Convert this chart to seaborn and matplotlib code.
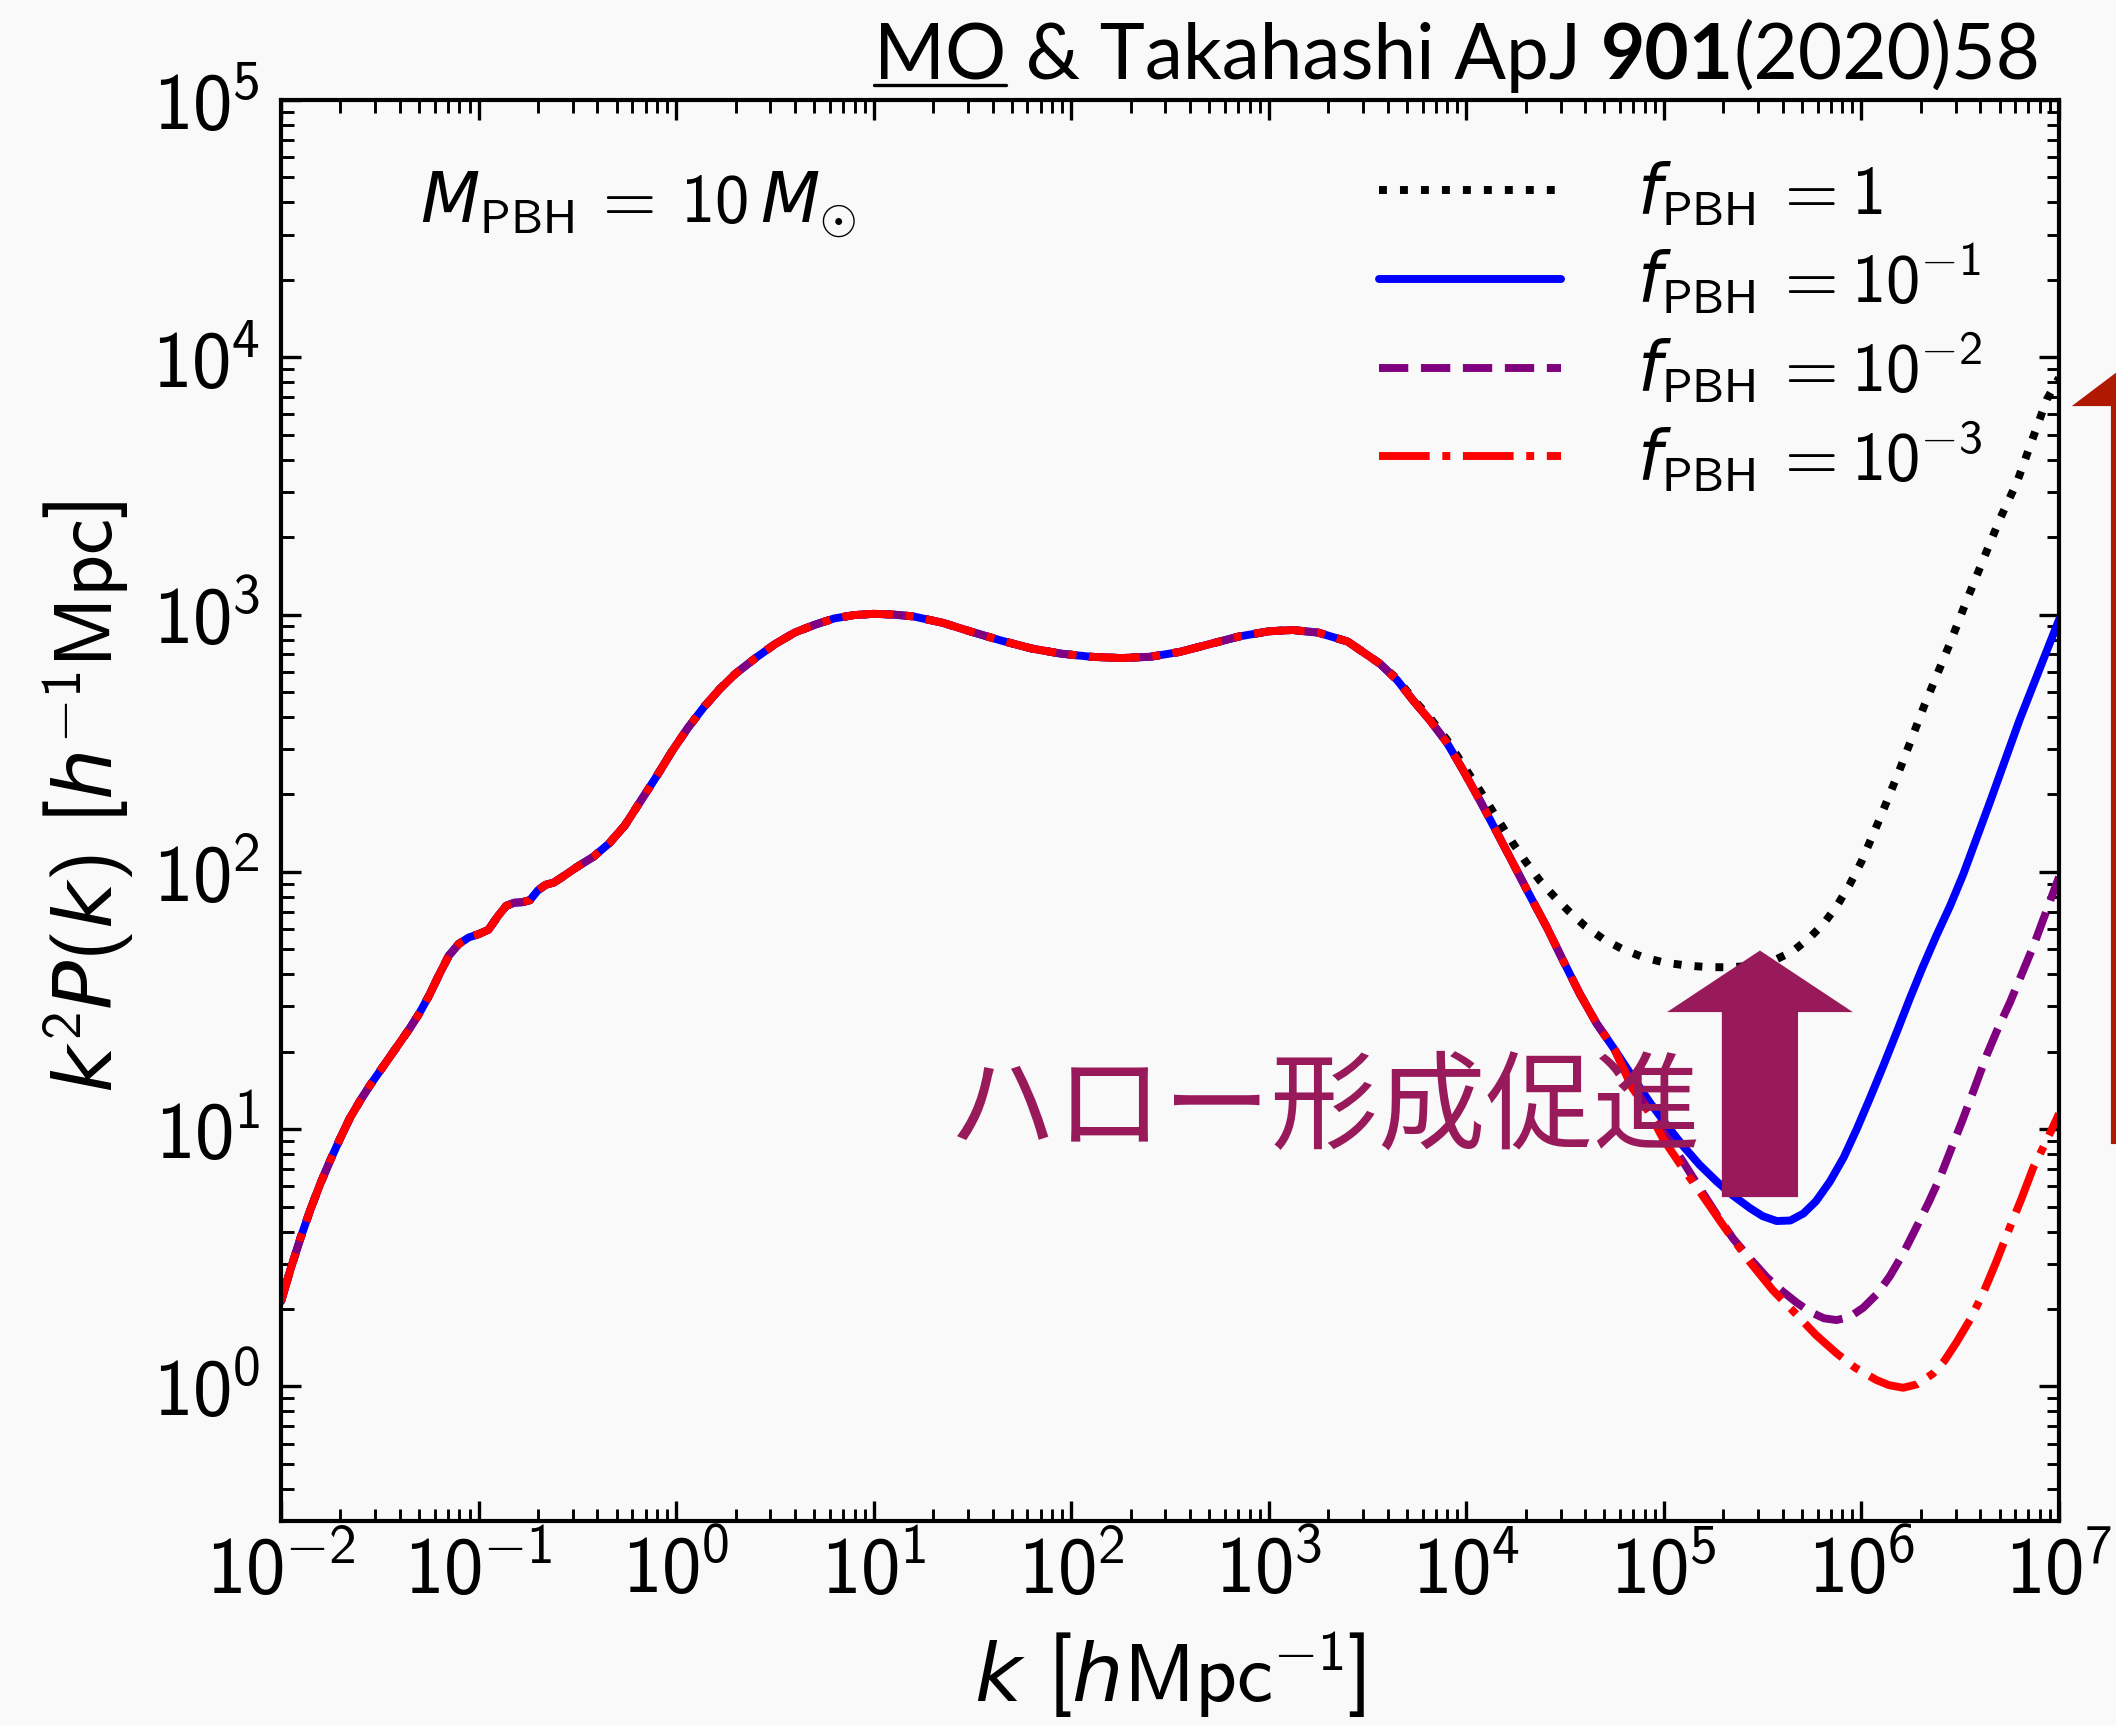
import numpy as np
import matplotlib
matplotlib.use("Agg")
import matplotlib.pyplot as plt
import seaborn as sns
from matplotlib.patches import FancyArrow
from matplotlib.lines import Line2D
from matplotlib.text import Annotation
from matplotlib.ticker import LogLocator, FuncFormatter, NullFormatter

# ---- data: log10 k [h/Mpc] and log10 k^2 P(k) [Mpc/h] ----
# part shared by all four f_PBH values
log_k_shared = [-2.0, -1.95, -1.90, -1.85, -1.80, -1.75, -1.70, -1.65, -1.60,
                -1.55, -1.50, -1.45, -1.40, -1.35, -1.30, -1.25, -1.20, -1.15,
                -1.10, -1.05, -1.00, -0.95, -0.90, -0.86, -0.82, -0.78, -0.74,
                -0.70, -0.66, -0.62, -0.58, -0.50, -0.42, -0.34, -0.26, -0.18,
                -0.10, -0.02, 0.06, 0.14, 0.22, 0.30, 0.40, 0.50, 0.60, 0.70,
                0.80, 0.90, 1.00, 1.10, 1.20, 1.35, 1.50, 1.65, 1.80, 1.95,
                2.10, 2.25, 2.40, 2.55, 2.70, 2.85, 3.00, 3.12, 3.25, 3.40, 3.563]
log_p_shared = [0.33, 0.46, 0.58, 0.69, 0.79, 0.88, 0.965, 1.045, 1.11,
                1.17, 1.225, 1.28, 1.335, 1.39, 1.45, 1.52, 1.60, 1.675,
                1.72, 1.745, 1.758, 1.775, 1.83, 1.868, 1.880, 1.882, 1.890,
                1.928, 1.950, 1.958, 1.978, 2.02, 2.058, 2.11, 2.18, 2.275,
                2.37, 2.47, 2.56, 2.64, 2.71, 2.77, 2.83, 2.885, 2.93, 2.96,
                2.985, 2.998, 3.003, 3.0, 2.993, 2.968, 2.932, 2.898, 2.868, 2.848,
                2.836, 2.831, 2.836, 2.855, 2.885, 2.915, 2.935, 2.94, 2.93, 2.895, 2.809]

# decline common to f_PBH <= 0.1
log_k_decline = [3.65, 3.731, 3.82, 3.90, 3.98, 4.069, 4.15, 4.238, 4.32,
                 4.407, 4.49, 4.575, 4.66, 4.75]
log_p_decline = [2.745, 2.666, 2.585, 2.504, 2.40, 2.277, 2.16, 2.031, 1.91,
                 1.785, 1.655, 1.525, 1.41, 1.31]

# f_PBH = 1
log_k_f1 = [3.65, 3.731, 3.82, 3.9, 3.98, 4.069, 4.15, 4.238, 4.30, 4.372,
            4.45, 4.524, 4.60, 4.693, 4.79, 4.896, 5.0, 5.115, 5.22, 5.335,
            5.45, 5.554, 5.65, 5.739, 5.81, 5.876, 5.94, 6.0, 6.1, 6.2, 6.32,
            6.448, 6.53, 6.615, 6.70, 6.787, 6.86, 6.939, 7.0]
log_p_f1 = [2.75, 2.672, 2.595, 2.515, 2.42, 2.316, 2.215, 2.109, 2.04, 1.966,
            1.90, 1.843, 1.79, 1.739, 1.70, 1.668, 1.648, 1.636, 1.630, 1.629,
            1.636, 1.655, 1.69, 1.745, 1.80, 1.868, 1.95, 2.04, 2.22, 2.41, 2.65,
            2.888, 3.05, 3.211, 3.37, 3.514, 3.67, 3.837, 3.92]

# f_PBH = 1e-1
log_k_f01 = [4.84, 4.929, 5.01, 5.098, 5.18, 5.267, 5.35, 5.436, 5.50, 5.571,
             5.64, 5.706, 5.77, 5.841, 5.91, 5.976, 6.04, 6.111, 6.18, 6.246,
             6.31, 6.381, 6.45, 6.515, 6.65, 6.8, 7.0]
log_p_f01 = [1.205, 1.104, 1.02, 0.934, 0.862, 0.797, 0.742, 0.693, 0.662, 0.643,
             0.645, 0.672, 0.72, 0.797, 0.89, 1.0, 1.115, 1.247, 1.38, 1.51,
             1.63, 1.755, 1.87, 1.99, 2.27, 2.59, 2.98]

# f_PBH = 1e-2
log_k_f001 = [4.84, 4.929, 5.01, 5.1, 5.182, 5.27, 5.35, 5.436, 5.52, 5.6,
              5.672, 5.74, 5.81, 5.874, 5.94, 6.009, 6.08, 6.144, 6.21, 6.279,
              6.34, 6.397, 6.455, 6.515, 6.575, 6.634, 6.69, 6.752, 6.81,
              6.870, 6.93, 7.0]
log_p_f001 = [1.17, 1.07, 0.975, 0.87, 0.77, 0.665, 0.575, 0.497, 0.425, 0.37,
              0.326, 0.29, 0.265, 0.258, 0.27, 0.306, 0.36, 0.429, 0.515, 0.62,
              0.715, 0.811, 0.925, 1.042, 1.165, 1.288, 1.39, 1.493, 1.6,
              1.711, 1.835, 1.98]

# f_PBH = 1e-3
log_k_f0001 = [4.84, 4.929, 4.997, 5.09, 5.182, 5.31, 5.436, 5.55, 5.672, 5.77,
               5.874, 5.97, 6.076, 6.14, 6.211, 6.28, 6.362, 6.42, 6.48, 6.55,
               6.615, 6.68, 6.752, 6.81, 6.87, 6.94, 7.0]
log_p_f0001 = [1.16, 1.06, 0.961, 0.855, 0.757, 0.615, 0.483, 0.375, 0.279, 0.20,
               0.129, 0.072, 0.025, 0.005, -0.005, 0.008, 0.05, 0.10, 0.17, 0.26,
               0.361, 0.48, 0.620, 0.73, 0.851, 0.96, 1.06]

labels = [r"$f_{\mathrm{PBH}}\,=1$",
          r"$f_{\mathrm{PBH}}\,=10^{-1}$",
          r"$f_{\mathrm{PBH}}\,=10^{-2}$",
          r"$f_{\mathrm{PBH}}\,=10^{-3}$"]
colors = ["black", "blue", "purple", "red"]
styles = [":", "-", "--", "-."]


def series(*parts):
    lk = np.concatenate([np.asarray(p[0], float) for p in parts])
    lp = np.concatenate([np.asarray(p[1], float) for p in parts])
    return 10.0 ** lk, 10.0 ** lp


curves = [
    series((log_k_shared, log_p_shared), (log_k_f1, log_p_f1)),
    series((log_k_shared, log_p_shared), (log_k_decline, log_p_decline), (log_k_f01, log_p_f01)),
    series((log_k_shared, log_p_shared), (log_k_decline, log_p_decline), (log_k_f001, log_p_f001)),
    series((log_k_shared, log_p_shared), (log_k_decline, log_p_decline), (log_k_f0001, log_p_f0001)),
]

# ---- style ----
sns.set_theme(style="ticks")
bg = "#f9f9f9"
plt.rcParams.update({
    "mathtext.fontset": "custom",
    "mathtext.rm": "cmss10",
    "mathtext.sf": "cmss10",
    "mathtext.it": "DejaVu Sans:italic",
    "mathtext.bf": "DejaVu Sans:bold",
    "mathtext.fallback": "cm",
    "figure.facecolor": bg,
    "axes.facecolor": bg,
    "savefig.facecolor": bg,
    "axes.edgecolor": "black",
    "axes.labelcolor": "black",
    "text.color": "black",
    "xtick.color": "black",
    "ytick.color": "black",
    "axes.linewidth": 1.0,
})
plt.rcParams["font.family"] = ["DejaVu Sans"]

W, H, DPI = 2116, 1725, 300
fig = plt.figure(figsize=(W / DPI, H / DPI), dpi=DPI)
ax = fig.add_axes([281 / W, 1 - 1521 / H, (2059 - 281) / W, (1521 - 100) / H])

for (k, p), lab, c, ls in zip(curves, labels, colors, styles):
    sns.lineplot(x=k, y=p, ax=ax, color=c, linestyle=ls, linewidth=1.9,
                 label=lab, sort=False, estimator=None)

ax.set_xscale("log")
ax.set_yscale("log")
ax.set_xlim(1e-2, 1e7)
ax.set_ylim(0.3, 1e5)

fmt = FuncFormatter(lambda v, pos: r"$10^{%d}$" % int(round(np.log10(v))))
for axis in (ax.xaxis, ax.yaxis):
    axis.set_major_locator(LogLocator(base=10, numticks=30))
    axis.set_minor_locator(LogLocator(base=10, subs=np.arange(2, 10), numticks=300))
    axis.set_major_formatter(fmt)
    axis.set_minor_formatter(NullFormatter())
ax.tick_params(which="both", direction="in", top=True, right=True,
               colors="black", labelcolor="black")
ax.tick_params(which="major", length=4.8, width=0.8, labelsize=19, pad=5)
ax.tick_params(which="minor", length=3.0, width=0.7)
ax.tick_params(axis="x", which="major", pad=3)

ax.set_xlabel(r"$k\ \left[h\mathrm{Mpc}^{-1}\right]$", fontsize=19.5, color="black")
ax.set_ylabel(r"$k^2P(k)\ \left[h^{-1}\mathrm{Mpc}\right]$", fontsize=19.5, color="black")
ax.xaxis.set_label_coords(0.5, -0.076)
ax.yaxis.set_label_coords(-0.082, 0.51)

leg = ax.legend(loc="upper left", bbox_to_anchor=(1379 / W, 1 - 160 / H),
                bbox_transform=fig.transFigure, frameon=False, fontsize=16.5,
                handlelength=2.65, handletextpad=1.1, labelspacing=0.2,
                borderpad=0, borderaxespad=0, labelcolor="black")

fig.text(420 / W, 1 - 222 / H, r"$M_{\mathrm{PBH}}\,=\,10\,M_{\odot}$",
         fontsize=16.5, ha="left", va="baseline", color="black")

# halo formation annotation
ax.text(949 / W, 1 - 1110 / H, "ハロー形成促進", transform=fig.transFigure,
        fontsize=25.8, color="#981a5a", family=["Noto Sans CJK JP", "DejaVu Sans"],
        ha="left", va="center", zorder=5)
ax.add_patch(FancyArrow(0.8318, 0.2294, 0, 0.1703, width=0.0405,
                        head_width=0.0967, head_length=0.0401,
                        length_includes_head=True, color="#981a5a",
                        transform=ax.transAxes, zorder=6, clip_on=False))

# red arrow along the right edge
fig.add_artist(FancyArrow(2123 / DPI, (H - 1142) / DPI, 0, (1142 - 370) / DPI,
                          width=20 / DPI, head_width=90 / DPI, head_length=34 / DPI,
                          length_includes_head=True, color="#b01800",
                          transform=fig.dpi_scale_trans, zorder=6))

# reference line at the top, sized to span its slot
tfam = ["Liberation Sans Narrow", "Lato", "DejaVu Sans"]
fs0 = 22.0
t1 = fig.text(874 / W, 1 - 79 / H, "MO", ha="left", va="baseline",
              fontsize=fs0, family=tfam, color="black")
t2 = fig.add_artist(Annotation(" & Takahashi ApJ ", xy=(1, 0), xycoords=t1,
                               va="bottom", ha="left", fontsize=fs0, family=tfam,
                               color="black"))
t3 = fig.add_artist(Annotation("901", xy=(1, 0), xycoords=t2, va="bottom", ha="left",
                               fontweight="bold", fontsize=fs0, family=tfam,
                               color="black"))
t4 = fig.add_artist(Annotation("(2020)58", xy=(1, 0), xycoords=t3, va="bottom",
                               ha="left", fontsize=fs0, family=tfam, color="black"))
title_parts = [t1, t2, t3, t4]
for _ in range(3):
    fig.canvas.draw()
    span = t4.get_window_extent().x1 - t1.get_window_extent().x0
    fs = title_parts[0].get_fontsize() * (2041 - 874) / span
    for t in title_parts:
        t.set_fontsize(fs)

fig.canvas.draw()
bb = t1.get_window_extent()
fig.add_artist(Line2D([bb.x0 / W, bb.x1 / W], [1 - 85 / H, 1 - 85 / H],
                      color="black", linewidth=0.8, transform=fig.transFigure))

fig.savefig("out.png", dpi=DPI)
